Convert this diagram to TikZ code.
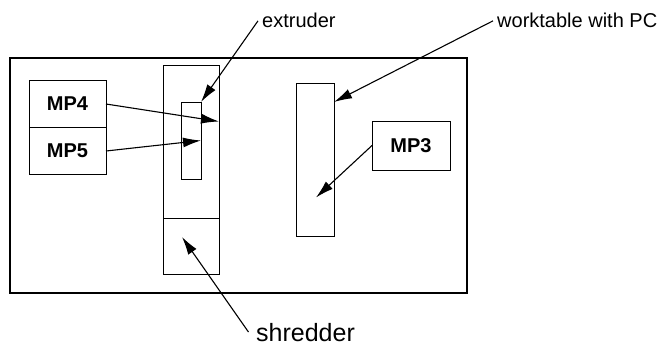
\documentclass[tikz,border=0pt]{standalone}
\usepackage{fontspec}
\setmainfont{Liberation Sans}
\usetikzlibrary{arrows.meta,positioning}

\begin{document}
\begin{tikzpicture}[
  x=1pt, y=-1pt,
  font=\fontsize{20}{24}\selectfont,
  box/.style={draw, line width=0.9pt, inner sep=0pt, outer sep=0pt},
  mp/.style={box, font=\fontsize{20}{24}\selectfont\bfseries},
  lbl/.style={inner sep=4pt},
  arr/.style={-{Latex[length=18pt, width=10pt]}, line width=1.1pt}
]
  \useasboundingbox (0,0) rectangle (668,345);

  \node[draw, line width=2.6pt, minimum width=457pt, minimum height=235pt] (room) at (238.5,175.5) {};

  \node[mp, minimum width=77pt, minimum height=47pt] (mp4) at (67.5,104) {MP4};
  \node[mp, minimum width=77pt, minimum height=47pt, below=0pt of mp4] (mp5) {MP5};

  \node[box, minimum width=56pt, minimum height=153pt] (extrunit) at (191,141.5) {};
  \node[box, minimum width=56pt, minimum height=56pt, below=0pt of extrunit] (shredunit) {};
  \node[box, minimum width=20pt, minimum height=77pt] (nozzle) at (191,140.5) {};

  \node[box, minimum width=38pt, minimum height=153pt] (worktable) at (315,159.5) {};
  \node[mp, minimum width=78pt, minimum height=49pt] (mp3) at (411,145.5) {MP3};

  \node[lbl, anchor=base west] (extlabel) at (258,28) {extruder};
  \node[lbl, anchor=base west] (wtlabel) at (493,28) {worktable with PC};
  \node[lbl, inner sep=1.5pt, anchor=base west, font=\fontsize{25}{30}\selectfont] (shredlabel) at (254.5,341) {shredder};

  \draw[arr] (extlabel.west) -- (nozzle.north east);
  \draw[arr] (mp4.east) -- ([yshift=20pt]extrunit.east);
  \draw[arr] (mp5.east) -- (nozzle.east);
  \draw[arr] (wtlabel.west) -- ([yshift=-19pt]worktable.north east);
  \draw[arr] (mp3.west) -- ([shift={(1,38)}]worktable.center);
  \draw[arr] ([xshift=-6pt]shredlabel.west) -- ([shift={(-9,-9)}]shredunit.center);
\end{tikzpicture}
\end{document}
